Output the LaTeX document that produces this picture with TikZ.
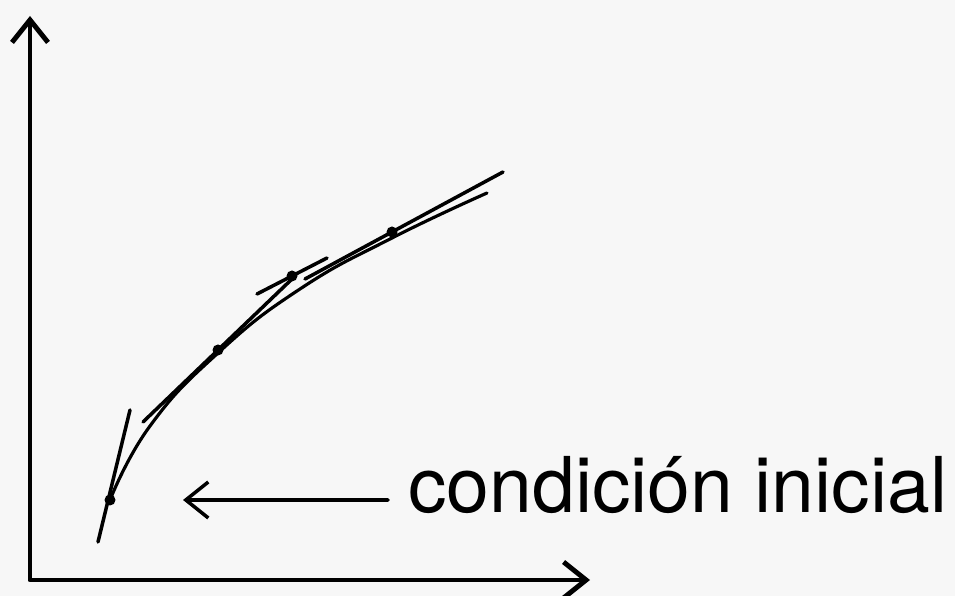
\documentclass[tikz,border=0pt]{standalone}
\usepackage{fontspec}
\setmainfont{TeX Gyre Heros}
\usepackage{tikz}
\usetikzlibrary{arrows.meta}

\begin{document}
\begin{tikzpicture}[>={Straight Barb[length=0.45cm, width=0.72cm]}, line cap=round, line join=round]

        \fill[black!3] (0,0) rectangle (19.10,11.92);
        \useasboundingbox (0,0) rectangle (19.10,11.92);

        % EJES
        \coordinate (origen) at (0.60,0.32);
        \coordinate (ejey) at (0.60,11.60);
        \coordinate (ejex) at (11.80,0.32);
        \draw[<->, line width=2.8pt] (ejey) -- (origen) -- (ejex);

        % PUNTOS Y CURVA
        \coordinate (p0) at (2.20,1.92);
        \coordinate (p1) at (4.36,4.92);
        \coordinate (p2) at (5.84,6.40);
        \coordinate (p3) at (7.84,7.28);

        \draw[line width=1.8pt] plot[smooth, tension=0.8] coordinates {(p0) (3.00,3.40) (4.36,4.86) (6.00,6.14) (7.84,7.16) (9.74,8.06)};

        % Tangentes
        \draw[line width=2pt] ([shift={(-0.24,-0.84)}]p0) -- ([shift={(0.40,1.80)}]p0);
        \draw[line width=2pt] ([shift={(-1.50,-1.44)}]p1) -- ([shift={(1.50,1.44)}]p1);
        \draw[line width=2pt] ([shift={(-0.70,-0.36)}]p2) -- ([shift={(0.70,0.36)}]p2);
        \draw[line width=2pt] ([shift={(-1.74,-0.94)}]p3) -- ([shift={(2.22,1.20)}]p3);

        \foreach \p in {p0,p1,p2,p3}
            \fill (\p) circle (0.11);

        % CONDICION INICIAL
        \node[anchor=base west, inner sep=0pt, font=\fontsize{43.8}{50}\selectfont] (inicial) at (8.16,1.66) {condición inicial};
        \coordinate (punta) at (3.66,1.92);
        \draw[->, line width=2pt] ([xshift=-0.40cm, yshift=0.26cm]inicial.base west) -- (punta);
    \end{tikzpicture}
\end{document}
